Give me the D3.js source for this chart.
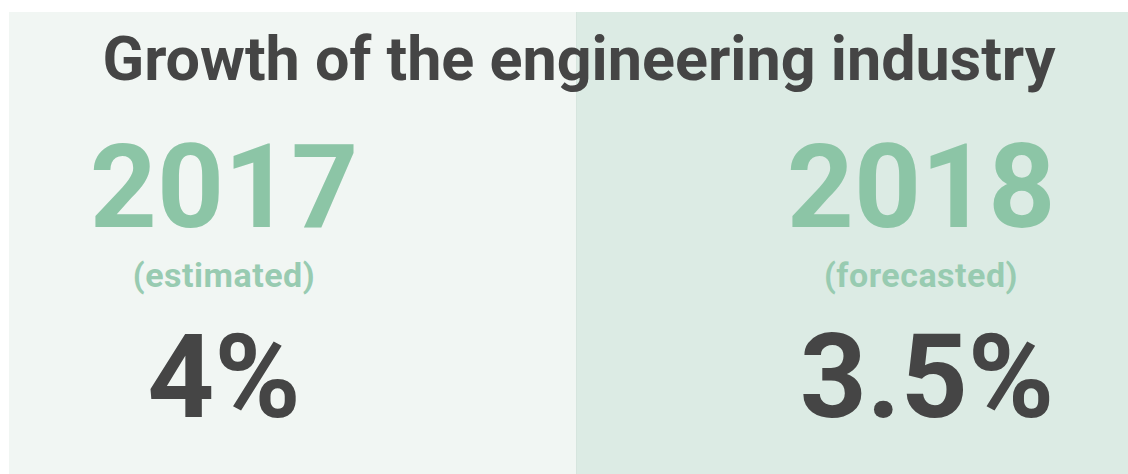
<!DOCTYPE html>
<html>
<head>
<meta charset="utf-8">
<script src="https://cdn.jsdelivr.net/npm/d3@7"></script>
<style>
  html, body { margin: 0; padding: 0; background: #fff; overflow: hidden; }
  text { font-family: Roboto, "Noto Sans", sans-serif; }
</style>
</head>
<body>
<svg id="chart"></svg>
<script>
// chart data
const title = 'Growth of the engineering industry';
const years = ['2017', '2018'];
const notes = ['(estimated)', '(forecasted)'];
const growth = [4, 3.5];

const width = 1128;
const height = 474;

const svg = d3.select('#chart')
  .attr('width', width)
  .attr('height', height);

// panel backgrounds, one band per year
const panelScale = d3.scaleBand()
  .domain(years)
  .range([9, 1143])
  .padding(0);

const panelColor = d3.scaleOrdinal()
  .domain(years)
  .range(['#f1f6f3', '#dcebe4']);

svg.selectAll('.panel')
  .data(years)
  .enter().append('rect')
    .attr('class', 'panel')
    .attr('x', d => panelScale(d))
    .attr('y', 12)
    .attr('width', panelScale.bandwidth())
    .attr('height', height - 12)
    .attr('fill', d => panelColor(d));

svg.append('line')
  .attr('x1', panelScale(years[1]) + 0.5)
  .attr('x2', panelScale(years[1]) + 0.5)
  .attr('y1', 12)
  .attr('y2', height)
  .attr('stroke', '#d6e5de')
  .attr('stroke-width', 1);

// column centres for the text
const colScale = d3.scaleOrdinal()
  .domain(years)
  .range([224, 921]);

svg.append('text')
  .attr('x', 579)
  .attr('y', 80)
  .attr('text-anchor', 'middle')
  .attr('font-size', 62)
  .attr('font-weight', 700)
  .attr('fill', '#454545')
  .attr('textLength', 953)
  .attr('lengthAdjust', 'spacingAndGlyphs')
  .text(title);

const cols = svg.selectAll('.col')
  .data(years.map((y, i) => ({ year: y, note: notes[i], value: growth[i] })))
  .enter().append('g')
    .attr('class', 'col')
    .attr('transform', d => `translate(${colScale(d.year)},0)`);

cols.append('text')
  .attr('y', 227)
  .attr('text-anchor', 'middle')
  .attr('font-size', 117)
  .attr('font-weight', 700)
  .attr('fill', '#8cc5a6')
  .text(d => d.year);

cols.append('text')
  .attr('y', 287)
  .attr('text-anchor', 'middle')
  .attr('font-size', 34)
  .attr('font-weight', 700)
  .attr('letter-spacing', 0.5)
  .attr('fill', '#98cbb1')
  .text(d => d.note);

cols.append('text')
  .attr('y', 417)
  .attr('dx', (d, i) => i === 1 ? 6 : 0)
  .attr('text-anchor', 'middle')
  .attr('font-size', 117)
  .attr('font-weight', 700)
  .attr('fill', '#454545')
  .text(d => d.value + '%');
</script>
</body>
</html>
